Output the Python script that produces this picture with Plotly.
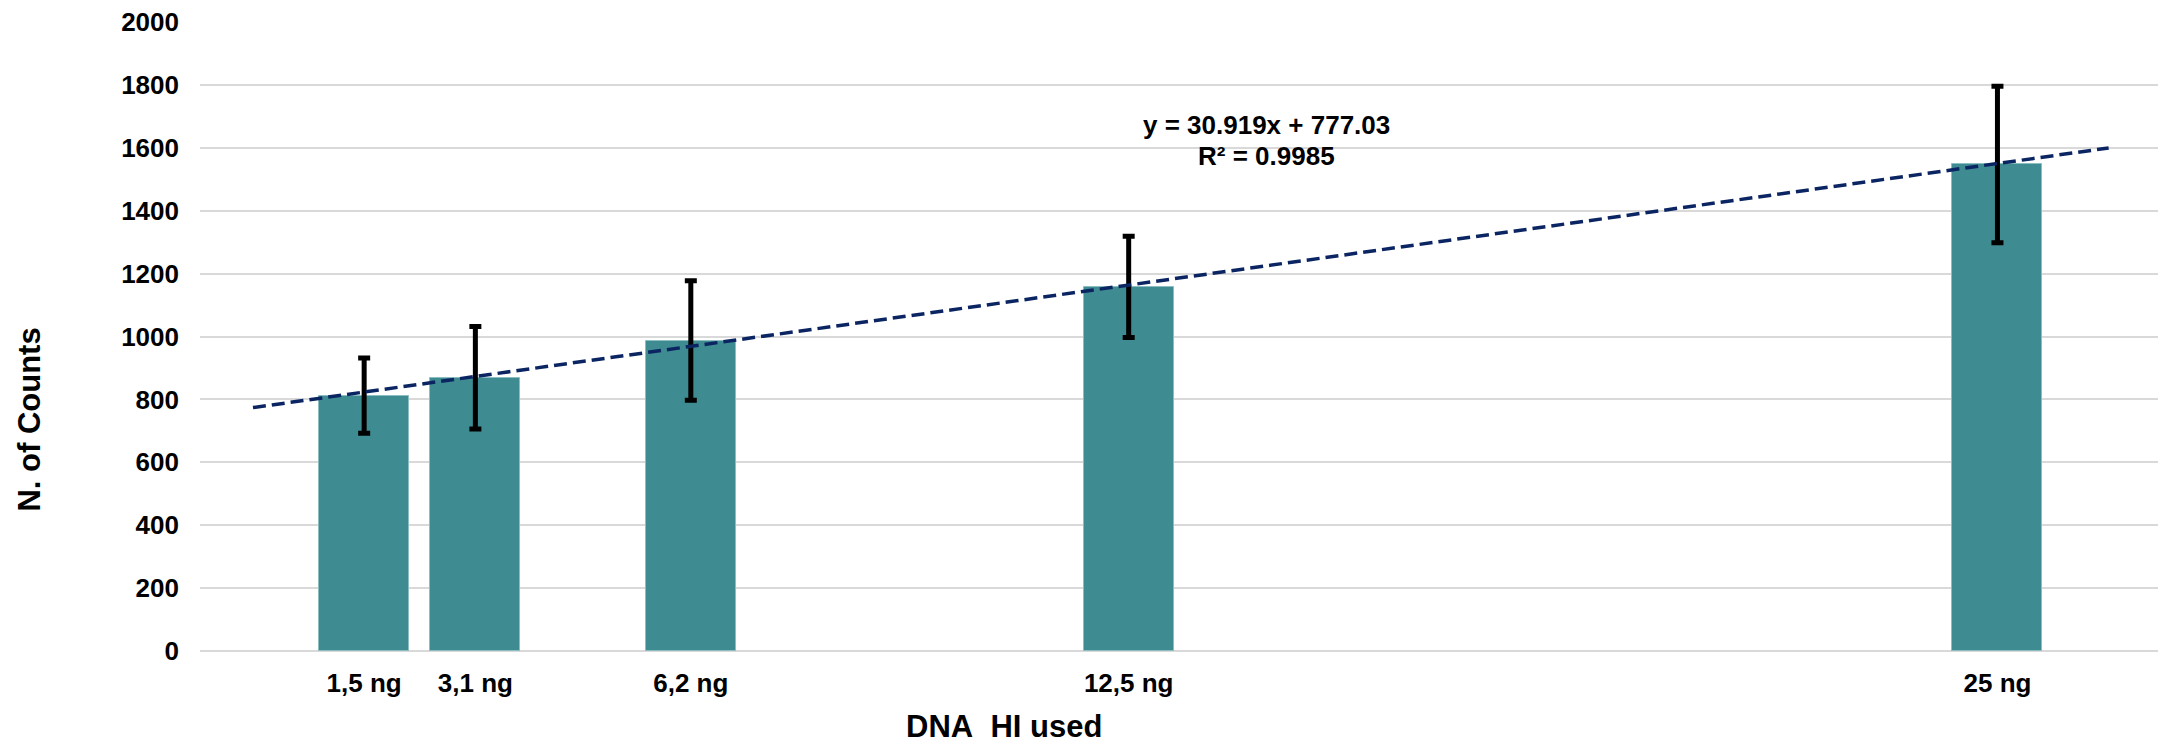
import plotly.graph_objects as go

# ---- data ----
dna_ng = [1.5, 3.1, 6.2, 12.5, 25]
tick_labels = ["1,5 ng", "3,1 ng", "6,2 ng", "12,5 ng", "25 ng"]
counts = [812, 869, 987, 1158, 1547]
errors = [120, 163, 190, 161, 249]
trend_slope = 30.919
trend_intercept = 777.03
trend_x_span = [-0.1, 26.6]
y_ticks = list(range(0, 2001, 200))

FONT = "Liberation Sans, Arial, sans-serif"
BAR_COLOR = "#3E8B91"
TREND_COLOR = "#0B2563"
GRID = "#D9D9D9"

trend_y = [trend_slope * x + trend_intercept for x in trend_x_span]

fig = go.Figure()
fig.add_trace(go.Bar(
    x=dna_ng, y=counts, width=1.295,
    marker=dict(color=BAR_COLOR, line=dict(color="#8CBDC1", width=1)),
    error_y=dict(type="data", array=errors, visible=True,
                 color="black", thickness=5, width=6),
    showlegend=False,
))
fig.add_trace(go.Scatter(
    x=trend_x_span, y=trend_y, mode="lines",
    line=dict(color=TREND_COLOR, width=3.5, dash="13px,6px"),
    showlegend=False,
))

fig.update_layout(
    width=2158, height=745,
    margin=dict(l=200, r=0, t=22, b=94),
    plot_bgcolor="white", paper_bgcolor="white",
    font=dict(family=FONT, color="black"),
    bargap=0,
)
fig.update_xaxes(
    range=[-0.862, 27.31],
    tickvals=dna_ng, ticktext=tick_labels,
    tickfont=dict(family=FONT, size=26, color="black", weight="bold"),
    showgrid=False, zeroline=False, showline=False, ticks="",
    ticklabelstandoff=14,
)
fig.update_yaxes(
    range=[0, 2000],
    tickvals=y_ticks,
    tickfont=dict(family=FONT, size=26, color="black", weight="bold"),
    showgrid=True, gridcolor=GRID, gridwidth=2,
    zeroline=True, zerolinecolor=GRID, zerolinewidth=2,
    showline=False, ticks="",
    ticklabelstandoff=20,
)

fig.add_annotation(
    text="N. of Counts", textangle=-90,
    xref="paper", yref="paper", x=-0.0873, y=0.368,
    xanchor="center", yanchor="middle", showarrow=False,
    font=dict(family=FONT, size=31, color="black", weight="bold"),
)
fig.add_annotation(
    text="DNA\u00a0 HI used",
    xref="paper", yref="paper", x=0.4106, y=-0.1195,
    xanchor="center", yanchor="middle", showarrow=False,
    font=dict(family=FONT, size=31, color="black", weight="bold"),
)
fig.add_annotation(
    text=f"y = {trend_slope}x + {trend_intercept}",
    xref="x", yref="y", x=14.48, y=1674,
    xanchor="center", yanchor="middle", showarrow=False,
    font=dict(family=FONT, size=26, color="black", weight="bold"),
)
fig.add_annotation(
    text="R² = 0.9985",
    xref="x", yref="y", x=14.48, y=1575,
    xanchor="center", yanchor="middle", showarrow=False,
    font=dict(family=FONT, size=26, color="black", weight="bold"),
)

fig.write_html("out.html")
